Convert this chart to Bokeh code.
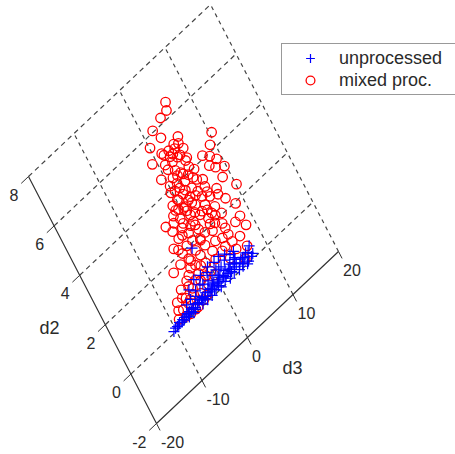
from bokeh.plotting import figure
from bokeh.models import Range1d, Legend, LegendItem
from bokeh.core.properties import value
from bokeh.embed import file_html
from bokeh.resources import INLINE
import numpy as np

d3_ticks = [-20, -10, 0, 10, 20]
d2_ticks = [-2, 0, 2, 4, 6, 8]

mixed_d3 = [5.9,5.4,3.95,1.8,2.5,5.1,3.9,.1,10.4,9.2,-.8,1.4,1.6,3.0,4.0,4.8,3.7,7.25,8.3,9.1,7.5,8.3,9.7,8.6,1.05,-.65,4.4,5.0,4.2,5.5,2.1,1.2,1.4,10.1,6.85,6.6,7.4,8.5,1.45,3.2,3.85,.2,2.3,4.1,2.1,3.9,1.45,5.2,-1.65,-3.6,-2.15,-2.95,-.75,-1.8,.9,2.95,.75,3.85,3.15,5.0,8.2,8.4,5.05,3.9,-4.1,-3.15,-2.65,-.65,1.45,2.9,3.5,6.95,5.7,-5.95,-3.9,-2.3,-6.15,-4.8,-4.65,-3.5,-1.7,-7.7,-6.1,-8.7,-7.45,-4.95,-6.55,-3.55,-.4,1.8,-.85,1.05,-.7,1.75,3.95,-.7,-2.6,.8,2.65,-1,-1.95,5.1,5.1,6.65,3.7,-3.1,-.45,1.3,-4.3,-3.25,-1.4,-6.05,-5.45,-7.35,-2.75,-.1,.6,4.25,2.7,.15,5.25,1.1,3,4.6,.85,.5,5.25,5.7,
            2.65,2.4,3.45,5.0,4.65,4.4,2.35,2.75,3.7,2.05,-.25,.3,2.1,3.2,1.8,-.95,2.45,2.4,.95,.45,5.2,4.6,.9,-1.25,3.35,-.9,.15,.5,3.0,-3.5,-2.5,-1.4,-.35,-2.15,-4.65,-4.35,-2.55,-6.6,-8.1,-5.55,5.1,7.05]
mixed_d2 = [6.5,6.25,6.2,6.05,5.65,5.25,5.15,5.65,4.5,4.2,5.15,5.2,5.1,4.9,4.7,4.45,5.0,4.1,3.9,3.65,3.65,3.45,3.25,3.0,4.8,4.5,4.15,3.95,3.75,3.45,4.4,4.25,4.0,2.45,2.85,2.65,2.35,1.95,3.8,3.5,3.25,3.55,3.3,3.0,3.1,2.7,3.55,2.4,3.2,3.1,3.0,2.8,2.75,2.45,2.55,2.6,3.0,2.5,2.05,1.75,1.5,1.1,1.3,1.35,2.3,1.95,1.65,1.45,1.25,1.0,.6,.5,.2,1.65,1.2,1.0,1.0,.9,.55,.4,.45,.75,.45,.25,.15,.1,.1,.15,3.25,2.75,2.95,2.2,2.35,1.95,1.95,2.05,2.45,1.6,1.45,1.7,2.05,1.0,.7,.95,1.05,1.35,1.1,.95,1.7,.9,.75,.65,.1,.4,.2,.55,1.9,2.3,3.85,4.1,3.2,4.6,4.1,3.6,3.15,3.85,2.8,2.05,
            5.1,4.9,4.7,4.8,5.05,4.4,4.7,4.2,3.95,4.2,3.9,3.5,3.6,3.2,3.25,3.5,2.95,2.55,2.8,3.15,3.0,2.15,2.4,2.65,2.25,3.3,2.5,1.85,1.8,2.15,1.55,1.15,.75,1.3,1.1,.75,.75,.75,.5,.5,1.55,1.45]

unproc_d3 = [-10.4,-9.9,-9.5,-9.2,-8.9,-8.5,-8.2,-8,-7.7,-7.4,-7.1,-6.9,-6.6,-6.3,-6,-5.7,-5.4,-5.1,-4.8,-4.5,-4.2,-3.9,-3.5,-3.1,-2.8,-2.4,-2,-1.6,-1.2,-.8,-.3,.2,.7,1.2,1.8,2.4,3,3.6,4.2,5,5.6,6.2,7.2,7.25,3.75,5.65,4.5,-1.35,-1,2.65,.25,.95,-4.1,-3.65,-3,-1.1,4.1,5.4,-6.5,-5.5,-4.5,-2.5,-1.5,-.5,.5,1.5,
             -4,-3,-2,-1,0,1,2,3,4,4.8,-5.5,-7,-6,2,0,-2,3.5,1,2.5,3,4.5,-.5,-2.2,-3.5,-5,.8,1.9,6.6,6.8,6,-1.2,-3.3,-.3,1.5,2.7,4,5]
unproc_d2 = [.05,.1,.1,.1,.15,.1,.15,.1,.15,.15,.2,.15,.2,.15,.2,.2,.15,.25,.2,.2,.25,.2,.25,.2,.3,.25,.3,.25,.3,.35,.25,.3,.4,.3,.4,.35,.45,.4,.5,.3,.25,.35,.15,.45,.7,0,.2,1.85,.8,.3,.4,.25,.6,.25,.65,.35,.45,.3,.45,.5,.45,.6,.55,.6,.65,.6,
             .05,.05,.05,.1,.05,.1,.05,.1,.05,.05,.1,.05,.05,.25,.25,.2,.25,.6,.7,.85,.7,.95,.9,.95,.8,.9,.95,.3,.1,.05,.15,.15,.15,.2,.2,.3,.15]

legend_labels = ["unprocessed", "mixed proc."]
axis_titles = ["d2", "d3"]


def proj(d3, d2):
    a = np.asarray(d3, dtype=float) + 20
    b = np.asarray(d2, dtype=float) + 2
    return 156 + 4.55 * a - 12.8 * b, 423 - 4.3 * a - 24.7 * b


FONT = value("Liberation Sans")
INK = "#2a2a2a"

p = figure(width=455, height=454, output_backend="svg", toolbar_location=None,
           x_range=Range1d(0, 455), y_range=Range1d(454, 0),
           min_border=0, outline_line_color=None)
p.axis.visible = False
p.grid.visible = False
p.background_fill_color = "white"

# dashed grid
gx0, gy0 = proj([-20] * 5, d2_ticks[1:])
gx1, gy1 = proj([20] * 5, d2_ticks[1:])
p.segment(gx0, gy0, gx1, gy1, line_color="#444444", line_width=1.2, line_dash="5 4")
hx0, hy0 = proj(d3_ticks[1:], [-2] * 4)
hx1, hy1 = proj(d3_ticks[1:], [8] * 4)
p.segment(hx0, hy0, hx1, hy1, line_color="#444444", line_width=1.2, line_dash="4 4")

# solid axes
ax, ay = proj([-20, -20, 20], [8, -2, -2])
p.line(ax, ay, line_color="#333333", line_width=1.2)

# ticks
tx0, ty0 = proj([-20] * 6, d2_ticks)
tx1, ty1 = proj([-21.6] * 6, d2_ticks)
p.segment(tx0, ty0, tx1, ty1, line_color="#333333", line_width=1)
ux0, uy0 = proj(d3_ticks, [-2] * 5)
ux1, uy1 = proj(d3_ticks, [-2.28] * 5)
p.segment(ux0, uy0, ux1, uy1, line_color="#333333", line_width=1)

# tick labels
p.text(tx0, ty0, text=[str(t) for t in d2_ticks], text_font=FONT, text_font_size="16px",
       text_color=INK, text_align="right", text_baseline="middle", x_offset=-10, y_offset=18)
p.text(ux0, uy0, text=[str(t) for t in d3_ticks], text_font=FONT, text_font_size="16px",
       text_color=INK, text_align="left", text_baseline="middle", x_offset=4.5, y_offset=18)

# axis titles
lx, ly = proj([-20, 0], [3, -2])
p.text(lx, ly, text=axis_titles, text_font=FONT, text_font_size="18px", text_color=INK,
       text_align="center", text_baseline="middle", x_offset=[-43, 45], y_offset=[28, 30])

# data
mx, my = proj(mixed_d3, mixed_d2)
r_mixed = p.scatter(mx, my, marker="circle", size=9.5, fill_color=None, line_color="#ff0000", line_width=1.3)
ux, uy = proj(unproc_d3, unproc_d2)
r_unproc = p.scatter(ux, uy, marker="cross", size=11, line_color="#0000ff", line_width=1.2)

legend = Legend(items=[LegendItem(label=legend_labels[0], renderers=[r_unproc]),
                       LegendItem(label=legend_labels[1], renderers=[r_mixed])],
                location=(281, 359), orientation="vertical",
                padding=3, spacing=0, margin=0,
                glyph_width=50, glyph_height=22, label_height=22, label_width=118,
                label_standoff=4,
                label_text_font="Liberation Sans", label_text_font_size="18px",
                label_text_color=INK,
                border_line_color="#333333", border_line_width=1,
                background_fill_alpha=1)
p.add_layout(legend, "center")

open("out.html", "w").write(file_html(p, INLINE))
